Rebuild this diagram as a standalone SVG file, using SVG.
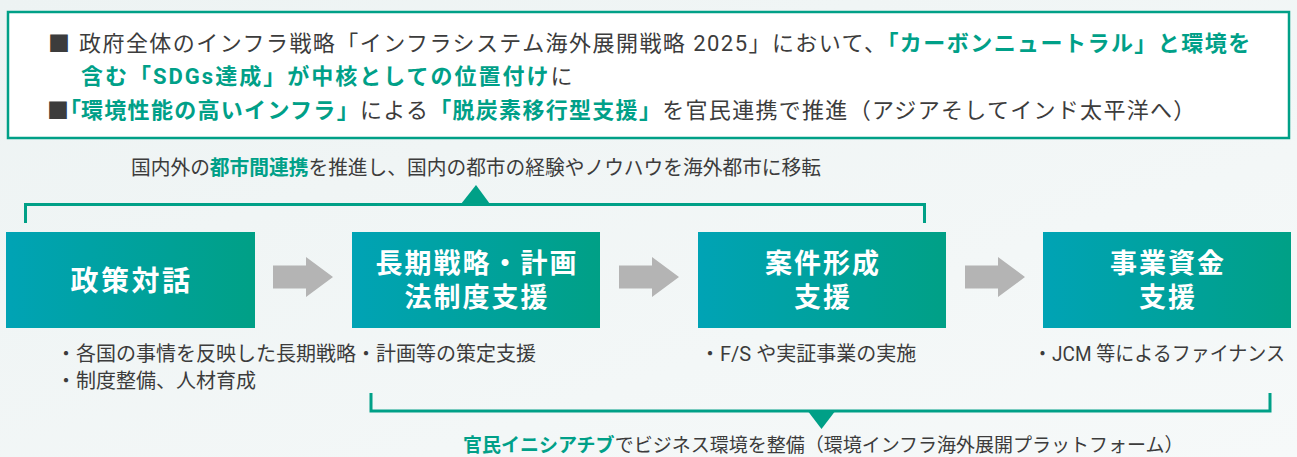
<svg xmlns="http://www.w3.org/2000/svg" width="1297" height="457" viewBox="0 0 1297 457">
<defs>
<linearGradient id="bg" x1="0" y1="0" x2="1" y2="1"><stop offset="0" stop-color="#edf3f3"/><stop offset="1" stop-color="#f6f9f9"/></linearGradient>
<linearGradient id="box" x1="0" y1="0" x2="1" y2="0"><stop offset="0" stop-color="#00a3b5"/><stop offset="1" stop-color="#00a086"/></linearGradient>
<style>
.t{font-family:Roboto,"Noto Sans CJK JP",sans-serif;fill:#3c3c3c}
.sq{font-family:"Noto Sans CJK JP",sans-serif;fill:#3c3c3c}
.g{fill:#00a088;font-weight:700}
.halt{font-family:"Noto Sans CJK JP",sans-serif;font-feature-settings:"halt"}
.lbl{font-family:"Noto Sans CJK JP",sans-serif;font-weight:700;fill:#ffffff;text-anchor:middle}
.br{fill:none;stroke:#00a087;stroke-width:3}
.tri{fill:#00a087}
.ar{fill:#b4b4b4}
.node{fill:url(#box)}
</style>
</defs>
<rect x="0" y="0" width="1297" height="457" fill="url(#bg)"/>

<g id="summary">
<rect x="8" y="12" width="1281" height="126" fill="#ffffff" stroke="#00a087" stroke-width="2.5"/>
<text class="t" x="48" y="51" font-size="22"><tspan class="sq">■</tspan><tspan x="79" letter-spacing="1.45">政府全体のインフラ戦略「インフラシステム海外展開戦略 2025」において、</tspan><tspan class="g" letter-spacing="1.45">「カーボンニュートラル」と環境を</tspan></text>
<text class="t" x="81" y="84" font-size="22" letter-spacing="2"><tspan class="g">含む「SDGs達成」が中核としての位置付け</tspan>に</text>
<text class="t" x="47" y="118" font-size="22"><tspan class="sq">■</tspan><tspan x="70" class="g halt">「</tspan><tspan class="g" letter-spacing="1.3">環境性能の高いインフラ」</tspan><tspan letter-spacing="1.3">による</tspan><tspan class="g" letter-spacing="1.3">「脱炭素移行型支援」</tspan><tspan letter-spacing="1.3">を官民連携で推進（アジアそしてインド太平洋へ）</tspan></text>
</g>

<g id="connectors">
<polyline class="br" points="25.5,223 25.5,204.5 924.5,204.5 924.5,223"/>
<polygon class="tri" points="461,204 476,185 490,204"/>
<polyline class="br" points="371,393 371,411 1270,411 1270,393"/>
<polygon class="tri" points="807,410 836,410 821.5,429"/>
<polygon class="ar" points="273,265.5 306,265.5 306,257 333,277 306,297 306,288.5 273,288.5"/>
<polygon class="ar" points="619,265.5 652,265.5 652,257 679,277 652,297 652,288.5 619,288.5"/>
<polygon class="ar" points="965,265.5 998,265.5 998,257 1025,277 998,297 998,288.5 965,288.5"/>
</g>

<g id="city-link-label">
<text class="t" x="131" y="175" font-size="20" textLength="690" lengthAdjust="spacingAndGlyphs">国内外の<tspan class="g">都市間連携</tspan>を推進し、国内の都市の経験やノウハウを海外都市に移転</text>
</g>

<g id="node-policy">
<rect class="node" x="6" y="232" width="249" height="96"/>
<text class="lbl" x="131.5" y="291" font-size="28" letter-spacing="2.5">政策対話</text>
</g>
<g id="node-strategy">
<rect class="node" x="352" y="232" width="248" height="96"/>
<text class="lbl" x="477" y="273" font-size="27" letter-spacing="2">長期戦略・計画<tspan x="477" dy="34">法制度支援</tspan></text>
</g>
<g id="node-project">
<rect class="node" x="698" y="232" width="248" height="96"/>
<text class="lbl" x="823" y="273" font-size="27" letter-spacing="2">案件形成<tspan x="823" dy="34">支援</tspan></text>
</g>
<g id="node-finance">
<rect class="node" x="1043" y="232" width="248" height="96"/>
<text class="lbl" x="1168" y="273" font-size="27" letter-spacing="2">事業資金<tspan x="1168" dy="34">支援</tspan></text>
</g>

<g id="notes">
<text class="t" x="56" y="361" font-size="20">・各国の事情を反映した長期戦略・計画等の策定支援<tspan x="56" dy="27">・制度整備、人材育成</tspan></text>
<text class="t" x="700" y="361" font-size="20">・F/S や実証事業の実施</text>
<text class="t" x="1033" y="361" font-size="20" textLength="252" lengthAdjust="spacingAndGlyphs">・JCM 等によるファイナンス</text>
</g>

<g id="platform-label">
<text class="t" x="463" y="452" font-size="19"><tspan class="g">官民イニシアチブ</tspan>でビジネス環境を整備（環境インフラ海外展開プラットフォーム）</text>
</g>
</svg>
